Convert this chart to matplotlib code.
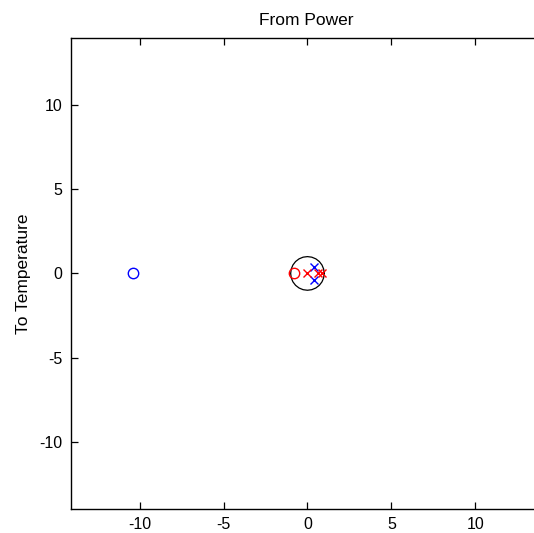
import numpy as np
import matplotlib
matplotlib.use('Agg')
import matplotlib.pyplot as plt

# pole / zero locations
blue_zeros_re = [-10.4]
blue_zeros_im = [0.0]
blue_poles_re = [0.4, 0.4]
blue_poles_im = [0.4, -0.4]
red_zeros_re = [-0.78]
red_zeros_im = [0.0]
red_poles_re = [0.0, 0.6, 0.85]
red_poles_im = [0.0, 0.0, 0.0]

ticks = [-10, -5, 0, 5, 10]

plt.rcParams['font.family'] = ['Liberation Sans', 'DejaVu Sans']
plt.rcParams['font.size'] = 11.5

fig = plt.figure(figsize=(5.34, 5.33), dpi=100)
ax = fig.add_axes([0.1326, 0.045, 0.880, 0.884])

# unit circle, coarse like the original
t = np.linspace(0, 2 * np.pi, 25)
ax.plot(np.cos(t), np.sin(t), color='black', lw=0.9)

ax.plot(blue_zeros_re, blue_zeros_im, 'o', mfc='none', mec='#0000ff', ms=7.5, mew=1.0)
ax.plot(blue_poles_re, blue_poles_im, 'x', color='#0000ff', ms=5.5, mew=1.0)
ax.plot(red_zeros_re, red_zeros_im, 'o', mfc='none', mec='#ff0000', ms=7.5, mew=1.0)
ax.plot(red_poles_re, red_poles_im, 'x', color='#ff0000', ms=5.5, mew=1.0)

ax.set_xlim(-14.1, 13.9)
ax.set_ylim(-14.0, 14.0)
ax.set_xticks(ticks)
ax.set_yticks(ticks)
ax.set_xticklabels([str(v) for v in ticks])
ax.set_yticklabels([str(v) for v in ticks])
ax.tick_params(direction='in', length=5, width=0.9, top=True, right=True, pad=6)
for s in ax.spines.values():
    s.set_linewidth(1.0)

ax.set_title('From Power', pad=9, fontsize=12.5)
ax.set_ylabel('To Temperature', labelpad=6, fontsize=12.5)

fig.savefig('out.png', dpi=100)
